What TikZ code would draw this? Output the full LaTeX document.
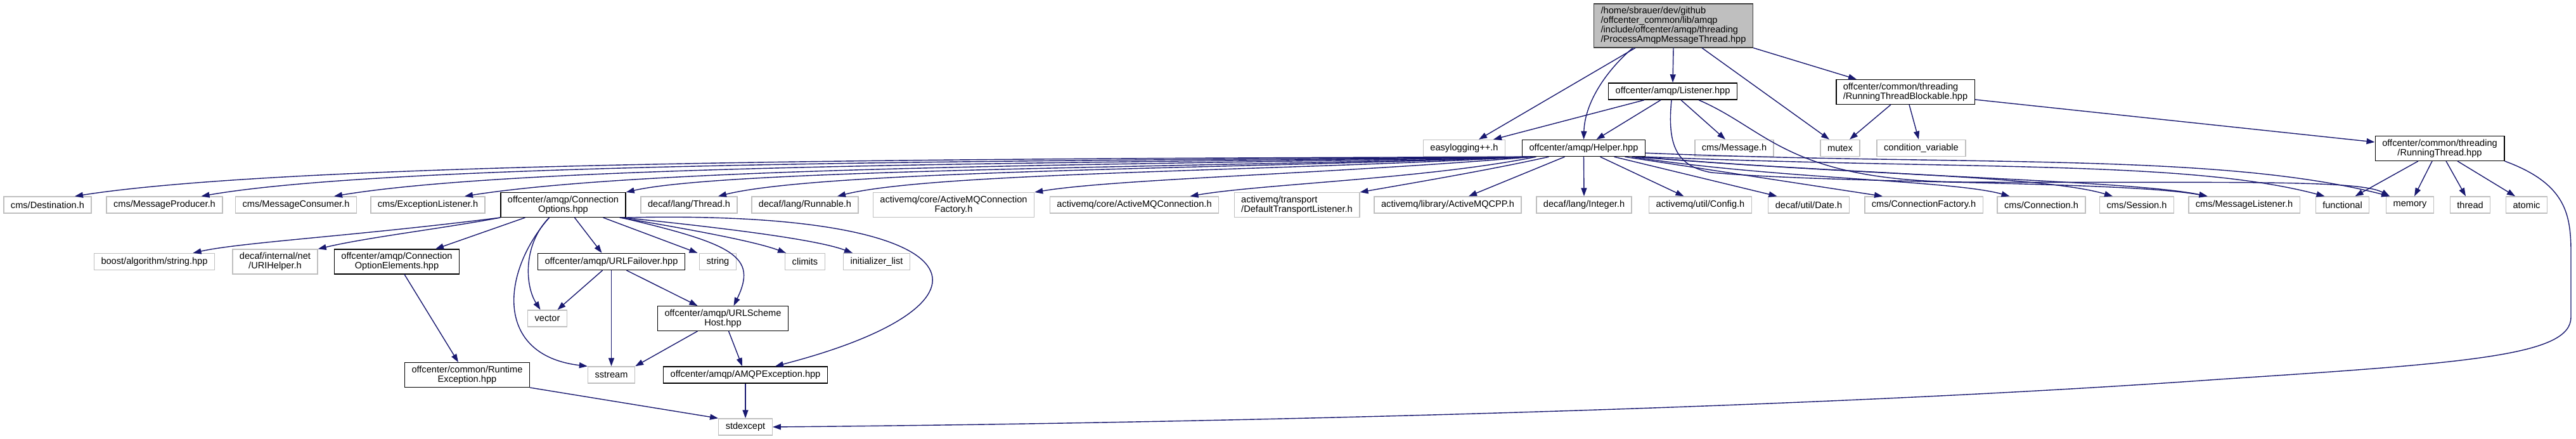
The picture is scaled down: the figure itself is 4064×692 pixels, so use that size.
\documentclass[tikz,border=0pt]{standalone}
\usepackage{fontspec}
\setmainfont{Liberation Sans}
\usepackage{tikz}
\usetikzlibrary{arrows.meta, positioning, calc}
\definecolor{edgeblue}{HTML}{191970}
\definecolor{extgray}{HTML}{BFBFBF}
\definecolor{rootgray}{HTML}{BFBFBF}
\definecolor{darkborder}{HTML}{404040}
\tikzset{
  filebox/.style={
    draw, line width=1.4pt, align=center, fill=white,
    inner xsep=11pt, inner ysep=5pt, minimum height=26pt,
    font=\fontsize{14.6}{15}\selectfont
  },
  extfile/.style={filebox, draw=extgray},
  docfile/.style={filebox, draw=black},
  rootfile/.style={filebox, draw=darkborder, fill=rootgray, align=left},
  incarrow/.style={
    -{Triangle[length=13pt,width=9pt]}, line width=1.4pt, draw=edgeblue
  },
}

\begin{document}
\begin{tikzpicture}[x=1pt, y=-1pt]
  \useasboundingbox (0,0) rectangle (4064,692);

  % Root file
  \node[rootfile] (root) at (2640,40.5)
    {/home/sbrauer/dev/github\\/offcenter\_common/lib/amqp\\/include/offcenter/amqp/threading\\/ProcessAmqpMessageThread.hpp};

  % Second level
  \node[docfile] (listener) at (2639,144) {offcenter/amqp/Listener.hpp};
  \node[docfile, align=left] (blockable) at (3006,145)
    {offcenter/common/threading\\/RunningThreadBlockable.hpp};

  % Third level
  \node[extfile] (easylog) at (2310,233.5) {easylogging++.h};
  \node[docfile] (helper) at (2498.5,233.5) {offcenter/amqp/Helper.hpp};
  \node[extfile] (cmsmsg) at (2736,233.5) {cms/Message.h};
  \node[extfile] (mutex) at (2903,233.5) {mutex};
  \node[extfile] (condvar) at (3031,233.5) {condition\_variable};
  \node[docfile] (runthread) at (3849,234)
    {offcenter/common/threading\\/RunningThread.hpp};

  % Headers included by Helper.hpp
  \node[extfile] (cmsdest) at (75,323) {cms/Destination.h};
  \node[extfile] (cmsprod) at (259.5,323) {cms/MessageProducer.h};
  \node[extfile] (cmscons) at (467,323) {cms/MessageConsumer.h};
  \node[extfile] (cmsexcl) at (675,323) {cms/ExceptionListener.h};
  \node[docfile] (connopt) at (888.5,323) {offcenter/amqp/Connection\\Options.hpp};
  \node[extfile] (langthread) at (1087,323) {decaf/lang/Thread.h};
  \node[extfile] (runnable) at (1270,323) {decaf/lang/Runnable.h};
  \node[extfile] (amqfactory) at (1504.5,323) {activemq/core/ActiveMQConnection\\Factory.h};
  \node[extfile] (amqconn) at (1789.5,323) {activemq/core/ActiveMQConnection.h};
  \node[extfile, align=left] (transport) at (2046,323)
    {activemq/transport\\/DefaultTransportListener.h};
  \node[extfile] (amqcpp) at (2284,323) {activemq/library/ActiveMQCPP.h};
  \node[extfile] (integer) at (2499,323) {decaf/lang/Integer.h};
  \node[extfile] (config) at (2682.5,323) {activemq/util/Config.h};
  \node[extfile] (date) at (2853.5,323) {decaf/util/Date.h};
  \node[extfile] (cmsfactory) at (3035,323) {cms/ConnectionFactory.h};
  \node[extfile] (cmsconn) at (3220.5,323) {cms/Connection.h};
  \node[extfile] (cmssession) at (3371,323) {cms/Session.h};
  \node[extfile] (cmslistener) at (3540.5,323) {cms/MessageListener.h};
  \node[extfile] (functional) at (3695.5,323) {functional};
  \node[extfile] (memory) at (3802,323) {memory};
  \node[extfile] (stdthread) at (3897,323) {thread};
  \node[extfile] (atomic) at (3986,323) {atomic};

  % Headers included by ConnectionOptions.hpp
  \node[extfile] (boost) at (243.5,412.5) {boost/algorithm/string.hpp};
  \node[extfile] (urihelper) at (434,412.5) {decaf/internal/net\\/URIHelper.h};
  \node[docfile] (optelems) at (626,412.5) {offcenter/amqp/Connection\\OptionElements.hpp};
  \node[docfile] (failover) at (964.5,412.5) {offcenter/amqp/URLFailover.hpp};
  \node[extfile] (string) at (1132.5,412.5) {string};
  \node[extfile] (climits) at (1270,412.5) {climits};
  \node[extfile] (initlist) at (1383,412.5) {initializer\_list};

  \node[extfile] (vector) at (863.5,502) {vector};
  \node[docfile] (schemehost) at (1140.5,502) {offcenter/amqp/URLScheme\\Host.hpp};

  \node[docfile] (runtimeexc) at (737,591) {offcenter/common/Runtime\\Exception.hpp};
  \node[extfile] (sstream) at (964.5,591) {sstream};
  \node[docfile] (amqpexc) at (1176,591) {offcenter/amqp/AMQPException.hpp};

  \node[extfile] (stdexcept) at (1176,673) {stdexcept};

  % Root includes
  \draw[incarrow] ([xshift=-60pt]root.south) -- ([xshift=23pt]easylog.north);
  \draw[incarrow] ([xshift=-64pt]root.south)
    .. controls (2530,115) and (2500,165) .. (helper.north);
  \draw[incarrow] (root.south) -- (listener.north);
  \draw[incarrow] ([xshift=45pt]root.south) -- ([xshift=-17pt]mutex.north);
  \draw[incarrow] (root.south east) -- ([xshift=-77pt]blockable.north);

  % Listener.hpp includes
  \draw[incarrow] ([xshift=-45pt]listener.south) -- ([xshift=46pt]easylog.north);
  \draw[incarrow] ([xshift=-19pt]listener.south) -- ([xshift=20pt]helper.north);
  \draw[incarrow] ([xshift=13pt]listener.south) -- ([xshift=-14pt]cmsmsg.north);
  \draw[incarrow] ([xshift=-2pt]listener.south)
    .. controls (2630,230) and (2645,262) .. (2700,272)
    .. controls (2900,290) and (3350,285) .. ([xshift=-58pt]cmslistener.north);
  \draw[incarrow] ([xshift=41pt]listener.south)
    .. controls (2790,205) and (2820,285) .. (3100,287)
    .. controls (3500,289) and (3720,282) .. ([xshift=-32pt]memory.north);

  % Helper.hpp includes, to the left
  \draw[incarrow] ([xshift=-85pt]helper.south)
    .. controls (1700,250) and (500,250) .. ([xshift=43pt]cmsdest.north);
  \draw[incarrow] ([xshift=-85pt]helper.south)
    .. controls (1750,254) and (650,252) .. ([xshift=58pt]cmsprod.north);
  \draw[incarrow] ([xshift=-85pt]helper.south)
    .. controls (1800,257) and (850,256) .. ([xshift=60pt]cmscons.north);
  \draw[incarrow] ([xshift=-85pt]helper.south)
    .. controls (1850,260) and (1050,260) .. ([xshift=58pt]cmsexcl.north);
  \draw[incarrow] ([xshift=-85pt]helper.south)
    .. controls (1900,264) and (1150,266) .. (connopt.north east);
  \draw[incarrow] ([xshift=-85pt]helper.south)
    .. controls (1950,266) and (1300,268) .. ([xshift=46pt]langthread.north);
  \draw[incarrow] ([xshift=-85pt]helper.south)
    .. controls (2000,270) and (1470,272) .. ([xshift=51pt]runnable.north);
  \draw[incarrow] ([xshift=-80pt]helper.south)
    .. controls (2100,274) and (1760,282) .. (amqfactory.north east);
  \draw[incarrow] ([xshift=-75pt]helper.south)
    .. controls (2250,282) and (1990,290) .. ([xshift=88pt]amqconn.north);
  \draw[incarrow] ([xshift=-55pt]helper.south)
    .. controls (2350,268) and (2220,290) .. (transport.north east);
  \draw[incarrow] ([xshift=-30pt]helper.south) -- ([xshift=33pt]amqcpp.north);
  \draw[incarrow] (helper.south) -- (integer.north);

  % Helper.hpp includes, to the right
  \draw[incarrow] ([xshift=26pt]helper.south) -- ([xshift=-26pt]config.north);
  \draw[incarrow] ([xshift=48pt]helper.south) -- ([xshift=-50pt]date.north);
  \draw[incarrow] ([xshift=65pt]helper.south) -- ([xshift=-65pt]cmsfactory.north);
  \draw[incarrow] ([xshift=76pt]helper.south)
    .. controls (2800,282) and (3080,284) .. ([xshift=-50pt]cmsconn.north);
  \draw[incarrow] ([xshift=82pt]helper.south)
    .. controls (2900,274) and (3220,276) .. ([xshift=-38pt]cmssession.north);
  \draw[incarrow] ([xshift=88pt]helper.south)
    .. controls (2950,278) and (3360,284) .. ([xshift=-58pt]cmslistener.north);
  \draw[incarrow] (helper.south east)
    .. controls (3100,268) and (3450,252) .. ([xshift=-28pt]functional.north);
  \draw[incarrow] ([yshift=6pt]helper.south east)
    .. controls (3100,262) and (3500,240) .. ([xshift=-32pt]memory.north);

  % RunningThreadBlockable.hpp includes
  \draw[incarrow] ([xshift=-23pt]blockable.south) -- ([xshift=15pt]mutex.north);
  \draw[incarrow] ([xshift=6pt]blockable.south) -- ([xshift=-4pt]condvar.north);
  \draw[incarrow] ([yshift=-12pt]blockable.east) -- ([yshift=10pt]runthread.west);

  % RunningThread.hpp includes
  \draw[incarrow] ([xshift=-34pt]runthread.south) -- ([xshift=20pt]functional.north);
  \draw[incarrow] ([xshift=-12pt]runthread.south) -- ([xshift=7pt]memory.north);
  \draw[incarrow] ([xshift=10pt]runthread.south) -- ([xshift=-7pt]stdthread.north);
  \draw[incarrow] ([xshift=28pt]runthread.south) -- ([xshift=-18pt]atomic.north);
  \draw[incarrow] (runthread.south east)
    .. controls (4050,290) and (4056,340) .. (4056,400) -- (4056,500)
    .. controls (4056,560) and (3900,572) .. (3500,598)
    .. controls (2800,648) and (1800,668) .. (stdexcept.east);

  % ConnectionOptions.hpp includes
  \draw[incarrow] (connopt.south west)
    .. controls (560,372) and (380,382) .. ([xshift=61pt]boost.north);
  \draw[incarrow] (connopt.south west)
    .. controls (700,360) and (580,374) .. (urihelper.north east);
  \draw[incarrow] ([xshift=-60pt]connopt.south) -- ([xshift=61pt]optelems.north);
  \draw[incarrow] ([xshift=-22pt]connopt.south)
    .. controls (825,385) and (828,450) .. ([xshift=-11pt]vector.north);
  \draw[incarrow] ([xshift=-22pt]connopt.south)
    .. controls (790,430) and (780,560) .. (sstream.north west);
  \draw[incarrow] ([xshift=18pt]connopt.south) -- ([xshift=-15pt]failover.north);
  \draw[incarrow] ([xshift=63pt]connopt.south) -- ([xshift=-32pt]string.north);
  \draw[incarrow] ([xshift=-10pt]connopt.south east)
    .. controls (1080,360) and (1190,380) .. ([xshift=-30pt]climits.north);
  \draw[incarrow] ([xshift=-5pt]connopt.south east)
    .. controls (1150,360) and (1290,378) .. ([xshift=-38pt]initlist.north);
  \draw[incarrow] ([xshift=-8pt]connopt.south east)
    .. controls (1160,385) and (1195,405) .. ([xshift=17pt]schemehost.north);
  \draw[incarrow] (connopt.south east)
    .. controls (1560,330) and (1600,480) .. ([xshift=47pt]amqpexc.north);

  % URLFailover.hpp and URLSchemeHost.hpp includes
  \draw[incarrow] ([xshift=-14pt]failover.south) -- ([xshift=16pt]vector.north);
  \draw[incarrow] (failover.south) -- (sstream.north);
  \draw[incarrow] ([xshift=24pt]failover.south) -- ([xshift=-40pt]schemehost.north);
  \draw[incarrow] ([xshift=-40pt]schemehost.south) -- (sstream.north east);
  \draw[incarrow] ([xshift=9pt]schemehost.south) -- ([xshift=-5pt]amqpexc.north);

  % Exceptions
  \draw[incarrow] ([xshift=12pt]optelems.south) -- ([xshift=-14pt]runtimeexc.north);
  \draw[incarrow] (amqpexc.south) -- (stdexcept.north);
  \draw[incarrow] (runtimeexc.south east) -- (stdexcept.north west);
\end{tikzpicture}
\end{document}
